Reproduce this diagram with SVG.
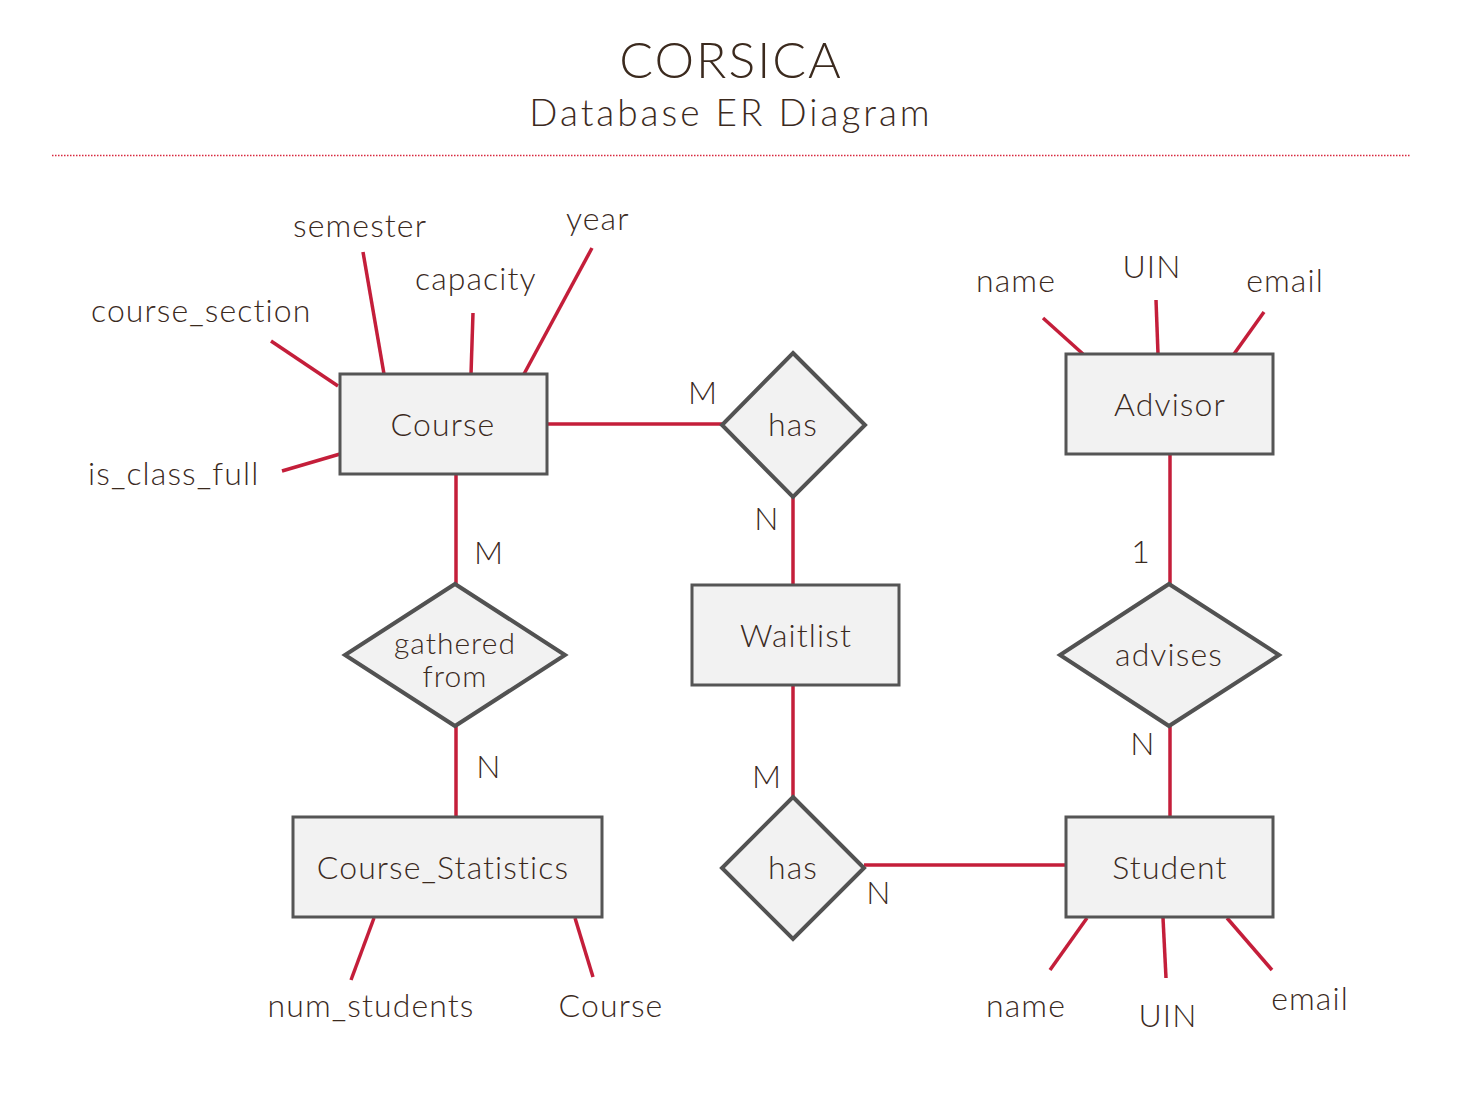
<svg xmlns="http://www.w3.org/2000/svg" width="1457" height="1114" viewBox="0 0 1457 1114">
<style>
text{font-family:"Lato","Open Sans","Noto Sans",sans-serif;font-weight:300;fill:#3b2a1e;}
.lbl{font-size:32px;letter-spacing:1.1px;}
.ctr{text-anchor:middle;}
.ent{fill:#f2f2f2;stroke:#555555;stroke-width:3;}
.rel{fill:#f2f2f2;stroke:#525252;stroke-width:4;stroke-linejoin:miter;}
.ln{stroke:#c41e3a;stroke-width:3.5;fill:none;}
</style>
<rect width="1457" height="1114" fill="#ffffff"/>
<g id="title">
<text x="731" y="78" class="ctr" style="font-size:50px;letter-spacing:2px">CORSICA</text>
<text x="731" y="126" class="ctr" style="font-size:37px;letter-spacing:3px">Database ER Diagram</text>
<line x1="52" y1="155.5" x2="1410" y2="155.5" stroke="#d8283f" stroke-width="1.5" stroke-dasharray="1.5,1.5"/>
</g>
<g id="connectors">
<line class="ln" x1="271" y1="341" x2="338" y2="386"/>
<line class="ln" x1="363" y1="252" x2="384" y2="374"/>
<line class="ln" x1="473" y1="313" x2="471" y2="374"/>
<line class="ln" x1="592" y1="248" x2="524" y2="374"/>
<line class="ln" x1="282" y1="471" x2="340" y2="454"/>
<line class="ln" x1="547" y1="424" x2="722" y2="424"/>
<line class="ln" x1="793" y1="497" x2="793" y2="585"/>
<line class="ln" x1="793" y1="685" x2="793" y2="797"/>
<line class="ln" x1="864" y1="865" x2="1066" y2="865"/>
<line class="ln" x1="1087" y1="918" x2="1050" y2="970"/>
<line class="ln" x1="1163" y1="918" x2="1166" y2="978"/>
<line class="ln" x1="1227" y1="918" x2="1272" y2="970"/>
<line class="ln" x1="1043" y1="318" x2="1083" y2="354"/>
<line class="ln" x1="1156" y1="300" x2="1158" y2="354"/>
<line class="ln" x1="1264" y1="312" x2="1234" y2="354"/>
<line class="ln" x1="1170" y1="454" x2="1170" y2="584"/>
<line class="ln" x1="1170" y1="726" x2="1170" y2="817"/>
<line class="ln" x1="456" y1="474" x2="456" y2="584"/>
<line class="ln" x1="456" y1="726" x2="456" y2="817"/>
<line class="ln" x1="374" y1="918" x2="351" y2="980"/>
<line class="ln" x1="575" y1="918" x2="593" y2="977"/>
<text x="703" y="404" class="lbl ctr">M</text>
<text x="767" y="530" class="lbl ctr">N</text>
<text x="767" y="788" class="lbl ctr">M</text>
<text x="879" y="904" class="lbl ctr">N</text>
<text x="1141" y="563" class="lbl ctr">1</text>
<text x="1143" y="755" class="lbl ctr">N</text>
<text x="489" y="564" class="lbl ctr">M</text>
<text x="489" y="778" class="lbl ctr">N</text>
</g>
<g id="course">
<rect class="ent" x="340" y="374" width="207" height="100"/>
<text x="443" y="436" class="lbl ctr">Course</text>
</g>
<g id="course-attrs">
<text x="91" y="322" class="lbl">course_section</text>
<text x="293" y="237" class="lbl">semester</text>
<text x="415" y="290" class="lbl">capacity</text>
<text x="566" y="230" class="lbl">year</text>
<text x="88" y="485" class="lbl">is_class_full</text>
</g>
<g id="has1">
<polygon class="rel" points="793,353 865,425 793,497 722,425"/>
<text x="793" y="436" class="lbl ctr">has</text>
</g>
<g id="waitlist">
<rect class="ent" x="692" y="585" width="207" height="100"/>
<text x="796" y="647" class="lbl ctr">Waitlist</text>
</g>
<g id="has2">
<polygon class="rel" points="793,797 864,868 793,939 722,868"/>
<text x="793" y="879" class="lbl ctr">has</text>
</g>
<g id="student">
<rect class="ent" x="1066" y="817" width="207" height="100"/>
<text x="1170" y="879" class="lbl ctr">Student</text>
</g>
<g id="student-attrs">
<text x="1026" y="1017" class="lbl ctr">name</text>
<text x="1168" y="1027" class="lbl ctr">UIN</text>
<text x="1310" y="1010" class="lbl ctr">email</text>
</g>
<g id="advisor">
<rect class="ent" x="1066" y="354" width="207" height="100"/>
<text x="1170" y="416" class="lbl ctr">Advisor</text>
</g>
<g id="advisor-attrs">
<text x="1016" y="292" class="lbl ctr">name</text>
<text x="1152" y="278" class="lbl ctr">UIN</text>
<text x="1285" y="292" class="lbl ctr">email</text>
</g>
<g id="advises">
<polygon class="rel" points="1169,584 1279,655 1169,726 1060,655"/>
<text x="1169" y="666" class="lbl ctr">advises</text>
</g>
<g id="gathered-from">
<polygon class="rel" points="455,584 565,655 455,726 345,655"/>
<text x="455" y="654" class="ctr" style="font-size:30px;letter-spacing:1px">gathered</text>
<text x="455" y="687" class="ctr" style="font-size:30px;letter-spacing:1px">from</text>
</g>
<g id="course-statistics">
<rect class="ent" x="293" y="817" width="309" height="100"/>
<text x="443" y="879" class="lbl ctr">Course_Statistics</text>
</g>
<g id="cs-attrs">
<text x="371" y="1017" class="lbl ctr">num_students</text>
<text x="611" y="1017" class="lbl ctr">Course</text>
</g>
</svg>
